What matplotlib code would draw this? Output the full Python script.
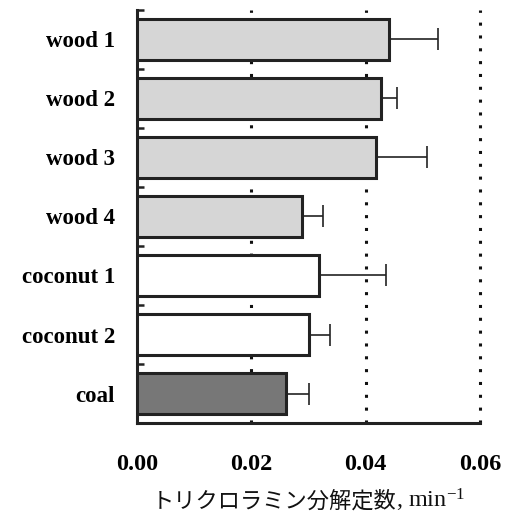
import numpy as np
import matplotlib
matplotlib.use("Agg")
import matplotlib.pyplot as plt
from matplotlib.offsetbox import TextArea, HPacker, AnchoredOffsetbox

plt.rcParams['mathtext.fontset'] = 'custom'
plt.rcParams['mathtext.rm'] = 'Liberation Serif'
plt.rcParams['mathtext.it'] = 'Liberation Serif:italic'

# Degradation rate constants and their standard deviations
categories = ["wood 1", "wood 2", "wood 3", "wood 4", "coconut 1", "coconut 2", "coal"]
rate = [0.0440, 0.0426, 0.0418, 0.0288, 0.0318, 0.0300, 0.0261]
rate_sd = [0.0086, 0.0028, 0.0089, 0.0037, 0.0117, 0.0037, 0.0039]
x_ticks = [0.00, 0.02, 0.04, 0.06]
x_tick_labels = ["0.00", "0.02", "0.04", "0.06"]

fills = ["#d6d6d6"] * 4 + ["#ffffff"] * 2 + ["#777777"]

fig = plt.figure(figsize=(5.08, 5.21), dpi=100)
ax = fig.add_axes([0.270, 0.188, 0.675, 0.793])

y = np.arange(len(categories))
ax.barh(y, rate, height=0.7, color=fills, edgecolor="#222222",
        linewidth=2.2, zorder=3)
ax.errorbar(rate, y, xerr=[np.zeros(len(rate)), rate_sd], fmt="none",
            ecolor="#222222", elinewidth=1.2, capsize=8, capthick=1.2, zorder=4)

ax.set_xlim(0, 0.06)
ax.set_ylim(len(categories) - 0.5, -0.5)

# dotted reference lines
for xv in x_ticks[1:]:
    ax.axvline(xv, color="#111111", linestyle=(0, (1, 3.2)), linewidth=2.2,
               zorder=1, clip_on=False)

ax.set_xticks(x_ticks)
ax.set_xticklabels(x_tick_labels)
ax.set_yticks(y)
ax.set_yticklabels(categories)
ax.set_yticks(np.arange(-0.5, len(categories) + 0.5, 1.0), minor=True)

for lab in ax.get_xticklabels():
    lab.set_fontfamily("Liberation Serif")
    lab.set_fontweight("bold")
    lab.set_fontsize(17.5)
for lab in ax.get_yticklabels():
    lab.set_fontfamily("Liberation Serif")
    lab.set_fontweight("bold")
    lab.set_fontsize(16.5)

ax.tick_params(axis="x", length=0, pad=22)
ax.tick_params(axis="y", which="major", length=0, pad=16)
ax.tick_params(axis="y", which="minor", direction="in", length=5, width=1.8,
               color="#222222")

for side in ["top", "right"]:
    ax.spines[side].set_visible(False)
for side in ["left", "bottom"]:
    ax.spines[side].set_linewidth(2.2)
    ax.spines[side].set_color("#222222")

# axis title: Japanese text followed by the unit in serif type
jp = TextArea("トリクロラミン分解定数",
              textprops=dict(family=["Noto Sans CJK JP", "DejaVu Sans"], size=16,
                             color="#111111"))
unit = TextArea(r", min$^{\mathregular{-1}}$",
                textprops=dict(family="Liberation Serif", size=17.5, color="#111111"))
pack = HPacker(children=[jp, unit], align="baseline", pad=0, sep=0)
box = AnchoredOffsetbox(loc="upper center", child=pack, frameon=False,
                        bbox_to_anchor=(0.5, -0.155), bbox_transform=ax.transAxes,
                        borderpad=0, pad=0)
ax.add_artist(box)

fig.savefig("out.png", dpi=100)
